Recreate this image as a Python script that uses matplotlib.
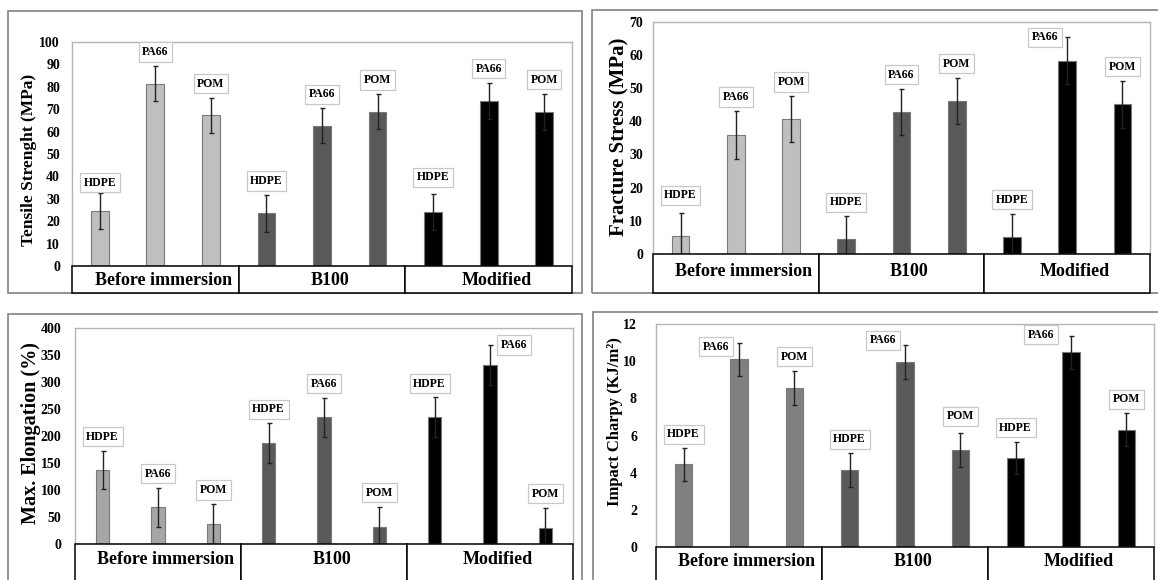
# Four bar panels: mechanical properties before / after immersion.
import numpy as np
import matplotlib
matplotlib.use("Agg")
import matplotlib.pyplot as plt
from matplotlib.patches import Rectangle

# Data.
groups = ["Before immersion", "B100", "Modified"]
polymers = ["HDPE", "PA66", "POM"]

tensile = [24.7, 81.4, 67.3, 23.5, 62.6, 68.9, 24.0, 73.8, 68.9]
tensile_err = [8.0, 7.9, 7.8, 8.2, 7.9, 7.9, 8.1, 8.0, 8.0]

fracture = [5.4, 35.9, 40.7, 4.5, 42.8, 46.2, 5.1, 58.2, 45.1]
fracture_err = [6.9, 7.2, 6.9, 6.9, 7.0, 6.9, 7.0, 7.1, 7.1]

elongation = [136.8, 67.8, 37.0, 186.0, 234.0, 32.0, 235.0, 331.0, 30.0]
elongation_err = [35.7, 36.2, 37.0, 37.0, 36.5, 37.0, 37.0, 37.0, 37.0]

impact = [4.45, 10.1, 8.57, 4.15, 9.94, 5.23, 4.82, 10.48, 6.32]
impact_err = [0.87, 0.9, 0.93, 0.9, 0.91, 0.9, 0.86, 0.88, 0.88]

W, H = 1158, 580
SERIF = "Liberation Serif"


def fig_rect(x0, y0, x1, y1):
    # pixel box (top-left origin) -> figure fraction rect
    return [x0 / W, 1 - y1 / H, (x1 - x0) / W, (y1 - y0) / H]


# Panel layout in pixels and styles.
panels = [
    dict(vals=tensile, errs=tensile_err, ylabel="Tensile Strenght (MPa)",
         ymax=100, step=10, plot=(72, 42, 572, 266), box=(266, 293), text_y=280,
         frame=(8, 11, 582, 293), ylab_pos=(29.5, 160), ylab_size=12.5, pad=8.6,
         colors=["#bfbfbf", "#595959", "#000000"], width=0.32,
         offsets={0: (0, 10), 6: (0, 17)}),
    dict(vals=fracture, errs=fracture_err, ylabel="Fracture Stress (MPa)",
         ymax=70, step=10, plot=(653, 21.7, 1150, 254), box=(254, 293), text_y=272,
         frame=(592, 10, 1170, 293), ylab_pos=(619, 137), ylab_size=15, pad=7.2,
         colors=["#bfbfbf", "#595959", "#000000"], width=0.32,
         offsets={0: (0, 18), 7: (-22, 0)}),
    dict(vals=elongation, errs=elongation_err, ylabel="Max. Elongation (%)",
         ymax=400, step=50, plot=(75, 327.7, 573, 544), box=(544, 610), text_y=560,
         frame=(8, 314, 582, 610), ylab_pos=(31, 433), ylab_size=14.5, pad=10,
         colors=["#a6a6a6", "#595959", "#000000"], width=0.24,
         offsets={6: (-5, 13), 7: (24, 0)}),
    dict(vals=impact, errs=impact_err, ylabel="Impact Charpy (KJ/m²)",
         ymax=12, step=2, plot=(656, 324, 1154, 547.3), box=(547.3, 610), text_y=561.5,
         frame=(593, 312, 1170, 610), ylab_pos=(615, 421.5), ylab_size=12, pad=13.7,
         colors=["#808080", "#5a5a5a", "#000000"], width=0.31,
         offsets={1: (-23, -4), 4: (-22, 5), 5: (0, 17), 7: (-30, 1)}),
]

fig = plt.figure(figsize=(W / 100, H / 100), dpi=100)

for p in panels:
    x0, y0, x1, y1 = p["plot"]

    # outer grey frame around the panel
    fx0, fy0, fx1, fy1 = p["frame"]
    fig.add_artist(Rectangle((fx0 / W, 1 - fy1 / H), (fx1 - fx0) / W, (fy1 - fy0) / H,
                             transform=fig.transFigure, fill=False,
                             edgecolor="#808080", linewidth=1.2))

    ax = fig.add_axes(fig_rect(x0, y0, x1, y1))
    xs = np.arange(len(p["vals"]))
    cols = [p["colors"][i // 3] for i in xs]
    ax.bar(xs, p["vals"], width=p["width"], color=cols, edgecolor="#7a7a7a",
           linewidth=0.8, zorder=2)
    ax.errorbar(xs, p["vals"], yerr=p["errs"], fmt="none", ecolor="#222222",
                elinewidth=1, capsize=1.8, capthick=1, zorder=3)

    ax.set_xlim(-0.5, len(xs) - 0.5)
    ax.set_ylim(0, p["ymax"])
    ax.set_xticks([])
    ax.set_yticks(np.arange(0, p["ymax"] + p["step"] / 2, p["step"]))
    ax.tick_params(axis="y", length=0, pad=p["pad"])
    for lab in ax.get_yticklabels():
        lab.set_fontfamily(SERIF)
        lab.set_fontweight("bold")
        lab.set_fontsize(10)
    for s in ax.spines.values():
        s.set_color("#b5b5b5")
        s.set_linewidth(1)

    # y label placed by its centre
    ax.set_ylabel(p["ylabel"], fontfamily=SERIF, fontweight="bold",
                  fontsize=p["ylab_size"])
    lx, ly = p["ylab_pos"]
    ax.yaxis.label.set_va("center")
    ax.yaxis.set_label_coords((lx - x0) / (x1 - x0), (y1 - ly) / (y1 - y0))

    # boxed polymer labels above error bars
    for i in xs:
        dx, dy = p["offsets"].get(int(i), (0, 14))
        ax.annotate(polymers[i % 3], xy=(i, p["vals"][i] + p["errs"][i]),
                    xytext=(dx, dy), textcoords="offset pixels",
                    ha="center", va="center", fontfamily=SERIF,
                    fontweight="bold", fontsize=8.5, zorder=4,
                    bbox=dict(boxstyle="square,pad=0.3", fc="white",
                              ec="#c8c8c8", lw=0.9))

    # category table under the plot
    by0, by1 = p["box"]
    bw = (x1 - x0) / 3
    for g, name in enumerate(groups):
        bx = x0 + g * bw
        fig.add_artist(Rectangle((bx / W, 1 - by1 / H), bw / W, (by1 - by0) / H,
                                 transform=fig.transFigure, facecolor="white",
                                 edgecolor="black", linewidth=1.1))
        fig.text((bx + bw / 2 + 8) / W, 1 - p["text_y"] / H, name,
                 ha="center", va="center", fontfamily=SERIF,
                 fontweight="bold", fontsize=13)

fig.savefig("out.png", dpi=100)
